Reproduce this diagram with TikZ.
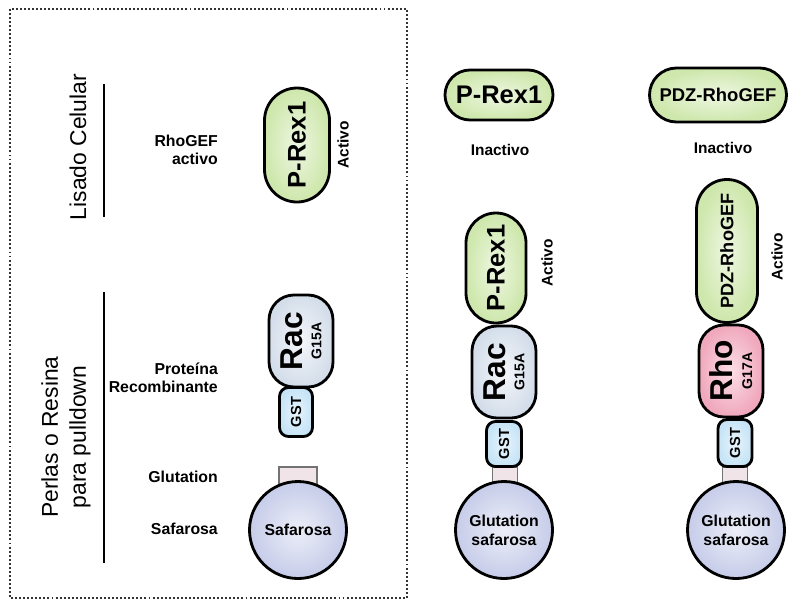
\documentclass[tikz,border=0pt]{standalone}
\usepackage{fontspec}
\setmainfont{Liberation Sans}
\usetikzlibrary{shapes.misc}
\definecolor{gefgreen}{RGB}{206,231,172}
\definecolor{gefgreenlt}{RGB}{238,247,226}
\definecolor{racgrey}{RGB}{212,222,234}
\definecolor{racgreylt}{RGB}{244,246,250}
\definecolor{rhopink}{RGB}{240,168,189}
\definecolor{rhopinklt}{RGB}{251,222,230}
\definecolor{gstblue}{RGB}{198,228,246}
\definecolor{gstbluelt}{RGB}{232,244,252}
\definecolor{glutpink}{RGB}{240,228,233}
\definecolor{beadblue}{RGB}{198,204,233}
\definecolor{beadbluelt}{RGB}{236,238,248}

\begin{document}
\begin{tikzpicture}[x=0.2mm,y=-0.2mm,
    capsule/.style={rounded rectangle,draw,line width=1.6pt,inner sep=0pt,
        shade,inner color=gefgreenlt,outer color=gefgreen,font=\bfseries},
    gtpase/.style={rectangle,rounded corners=5mm,draw,line width=1.6pt,inner sep=0pt,
        rotate=90,minimum width=18.4mm,minimum height=12.8mm,align=center,
        font=\bfseries\fontsize{18}{18}\selectfont},
    gsttag/.style={rectangle,rounded corners=1.8mm,draw,line width=1.6pt,inner sep=0pt,
        rotate=90,shade,inner color=gstbluelt,outer color=gstblue,
        font=\bfseries\fontsize{8.3}{9}\selectfont},
    glut/.style={rectangle,draw=black!55,line width=0.6pt,fill=glutpink,inner sep=0pt,
        minimum height=3.6mm},
    bead/.style={circle,draw,line width=1.6pt,inner sep=0pt,minimum size=19.4mm,
        shade,inner color=beadbluelt,outer color=beadblue,align=center,
        font=\bfseries\fontsize{9}{10.8}\selectfont},
    lbl/.style={anchor=east,align=right,font=\bfseries\fontsize{9}{10.4}\selectfont},
    state/.style={font=\bfseries\fontsize{8.8}{9}\selectfont}]
    \useasboundingbox (0,0) rectangle (788,605);
    \draw[line width=1.1pt,black!80,dash pattern=on 1.1pt off 1.2pt] (10,9) rectangle (407,598);

    \node (lisado) at (78,147) [rotate=90,font=\fontsize{13}{16}\selectfont] {Lisado Celular};
    \node (perlas) at (66,437) [rotate=90,align=center,font=\fontsize{13}{16}\selectfont] {Perlas o Resina\\para pulldown};
    \draw[line width=1.5pt] (104,84) -- (104,217);
    \draw[line width=1.5pt] (104,292) -- (104,563);

    \node (lblgef)  at (224,150) [lbl] {RhoGEF\\activo};
    \node (lblprot) at (224,378) [lbl] {Proteína\\Recombinante};
    \node (lblglut) at (224,477) [lbl] {Glutation};
    \node (lblsaf)  at (224,529) [lbl] {Safarosa};

    \node (glut1) at (298,476) [glut,minimum width=7.6mm] {};
    \node (bead1) at (298,530) [bead] {Safarosa};
    \node (gst1)  at (296,412) [gsttag,minimum width=9.8mm,minimum height=6.6mm] {GST};
    \node (rac1)  at (301,341) [gtpase,shade,inner color=racgreylt,outer color=racgrey] {Rac\\[-7pt]{\fontsize{8}{8}\selectfont G15A}};
    \node (prex1) at (297,145) [capsule,rotate=90,minimum width=22.8mm,minimum height=13mm,
        font=\bfseries\fontsize{14.5}{15}\selectfont] {P-Rex1};
    \node (act1)  at (343,145) [state,rotate=90] {Activo};

    \node (prexoff) at (499,95) [capsule,minimum width=21.6mm,minimum height=10mm,
        font=\bfseries\fontsize{14.5}{15}\selectfont] {P-Rex1};
    \node (inact2)  at (500,150) [state] {Inactivo};
    \node (glut2) at (505,476) [glut,minimum width=5mm] {};
    \node (bead2) at (504,530) [bead] {Glutation\\safarosa};
    \node (gst2)  at (504,444) [gsttag,minimum width=9mm,minimum height=7mm] {GST};
    \node (rac2)  at (504,372) [gtpase,shade,inner color=racgreylt,outer color=racgrey] {Rac\\[-7pt]{\fontsize{8}{8}\selectfont G15A}};
    \node (prex2) at (496,268) [capsule,rotate=90,minimum width=22mm,minimum height=12mm,
        font=\bfseries\fontsize{14.5}{15}\selectfont] {P-Rex1};
    \node (act2)  at (547,263) [state,rotate=90] {Activo};

    \node (pdzoff) at (718,95) [capsule,minimum width=27.4mm,minimum height=10.8mm,
        font=\bfseries\fontsize{10.5}{11}\selectfont] {PDZ-RhoGEF};
    \node (inact3) at (723,148) [state] {Inactivo};
    \node (glut3) at (735,476) [glut,minimum width=5mm] {};
    \node (bead3) at (736,530) [bead] {Glutation\\safarosa};
    \node (gst3)  at (735,443) [gsttag,minimum width=9.4mm,minimum height=6.8mm] {GST};
    \node (rho3)  at (731,371) [gtpase,shade,inner color=rhopinklt,outer color=rhopink] {Rho\\[-7pt]{\fontsize{8}{8}\selectfont G17A}};
    \node (pdz3)  at (727,251) [capsule,rotate=90,minimum width=28.6mm,minimum height=12.2mm,
        font=\bfseries\fontsize{10.3}{11}\selectfont] {PDZ-RhoGEF};
    \node (act3)  at (777,257) [state,rotate=90] {Activo};
\end{tikzpicture}
\end{document}
